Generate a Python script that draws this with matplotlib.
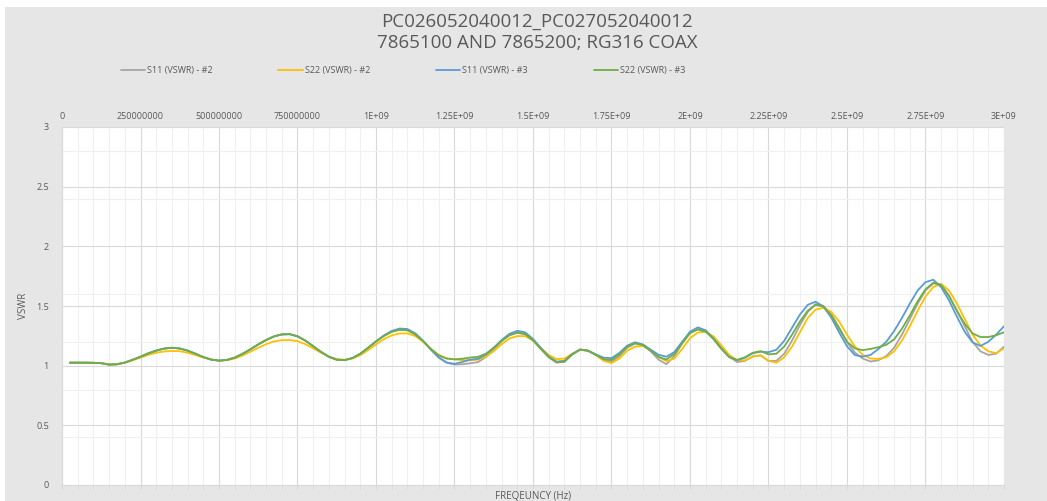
import numpy as np
import matplotlib
matplotlib.use("Agg")
import matplotlib.pyplot as plt
from matplotlib.ticker import MultipleLocator, FixedLocator, FixedFormatter
from matplotlib.patches import Rectangle

# frequency grid (Hz), 25 MHz steps
freq = np.arange(25, 3001, 25) * 1e6

s11_2 = [1.025, 1.025, 1.025, 1.024, 1.021, 1.009, 1.012, 1.026, 1.049, 1.075,
         1.103, 1.126, 1.143, 1.150, 1.144, 1.126, 1.100, 1.072, 1.051, 1.042,
         1.048, 1.067, 1.099, 1.137, 1.178, 1.215, 1.245, 1.262, 1.264, 1.246,
         1.210, 1.163, 1.115, 1.074, 1.050, 1.046, 1.064, 1.100, 1.150, 1.203,
         1.250, 1.286, 1.305, 1.300, 1.265, 1.205, 1.132, 1.066, 1.024, 1.010,
         1.012, 1.020, 1.030, 1.072, 1.135, 1.205, 1.258, 1.282, 1.270, 1.215,
         1.140, 1.070, 1.025, 1.032, 1.093, 1.134, 1.125, 1.092, 1.050, 1.032,
         1.080, 1.150, 1.185, 1.172, 1.120, 1.050, 1.012, 1.080, 1.185, 1.275,
         1.308, 1.292, 1.232, 1.150, 1.075, 1.030, 1.040, 1.078, 1.086, 1.040,
         1.040, 1.100, 1.210, 1.340, 1.450, 1.515, 1.500, 1.430, 1.320, 1.200,
         1.110, 1.060, 1.035, 1.045, 1.080, 1.150, 1.260, 1.390, 1.520, 1.630,
         1.690, 1.680, 1.590, 1.460, 1.330, 1.200, 1.120, 1.090, 1.100, 1.160]

s22_2 = [1.025, 1.025, 1.025, 1.024, 1.021, 1.009, 1.011, 1.024, 1.045, 1.068,
         1.090, 1.108, 1.119, 1.123, 1.121, 1.108, 1.089, 1.068, 1.052, 1.043,
         1.046, 1.060, 1.085, 1.117, 1.150, 1.180, 1.203, 1.214, 1.215, 1.205,
         1.180, 1.145, 1.108, 1.077, 1.056, 1.050, 1.060, 1.088, 1.130, 1.178,
         1.222, 1.254, 1.270, 1.270, 1.248, 1.200, 1.140, 1.090, 1.060, 1.053,
         1.046, 1.045, 1.050, 1.075, 1.122, 1.180, 1.228, 1.248, 1.247, 1.210,
         1.150, 1.090, 1.055, 1.060, 1.100, 1.132, 1.128, 1.090, 1.040, 1.022,
         1.060, 1.125, 1.160, 1.164, 1.130, 1.075, 1.037, 1.060, 1.140, 1.230,
         1.278, 1.284, 1.245, 1.170, 1.090, 1.045, 1.045, 1.075, 1.087, 1.040,
         1.025, 1.070, 1.160, 1.280, 1.400, 1.470, 1.485, 1.450, 1.370, 1.260,
         1.160, 1.090, 1.060, 1.057, 1.070, 1.120, 1.210, 1.330, 1.460, 1.580,
         1.660, 1.685, 1.630, 1.520, 1.390, 1.260, 1.170, 1.120, 1.105, 1.145]

s11_3 = [1.025, 1.025, 1.025, 1.024, 1.021, 1.009, 1.012, 1.026, 1.049, 1.075,
         1.103, 1.126, 1.143, 1.150, 1.144, 1.126, 1.100, 1.072, 1.051, 1.042,
         1.048, 1.067, 1.099, 1.137, 1.178, 1.215, 1.245, 1.262, 1.264, 1.246,
         1.210, 1.163, 1.115, 1.074, 1.050, 1.046, 1.064, 1.100, 1.150, 1.203,
         1.253, 1.291, 1.311, 1.307, 1.271, 1.209, 1.136, 1.070, 1.027, 1.015,
         1.031, 1.050, 1.058, 1.092, 1.150, 1.215, 1.267, 1.292, 1.279, 1.224,
         1.148, 1.077, 1.034, 1.041, 1.098, 1.136, 1.126, 1.095, 1.067, 1.063,
         1.107, 1.168, 1.196, 1.178, 1.134, 1.091, 1.075, 1.114, 1.200, 1.285,
         1.321, 1.296, 1.226, 1.142, 1.072, 1.047, 1.067, 1.104, 1.117, 1.113,
         1.133, 1.208, 1.318, 1.428, 1.510, 1.536, 1.496, 1.402, 1.278, 1.163,
         1.089, 1.076, 1.090, 1.140, 1.200, 1.290, 1.400, 1.520, 1.630, 1.700,
         1.720, 1.657, 1.546, 1.411, 1.283, 1.195, 1.165, 1.200, 1.260, 1.330]

s22_3 = [1.025, 1.025, 1.025, 1.024, 1.021, 1.009, 1.012, 1.026, 1.049, 1.075,
         1.103, 1.126, 1.143, 1.150, 1.144, 1.126, 1.100, 1.072, 1.051, 1.042,
         1.048, 1.067, 1.099, 1.137, 1.178, 1.215, 1.245, 1.262, 1.264, 1.246,
         1.210, 1.163, 1.115, 1.074, 1.050, 1.046, 1.064, 1.100, 1.150, 1.203,
         1.248, 1.283, 1.300, 1.296, 1.262, 1.205, 1.140, 1.086, 1.060, 1.053,
         1.058, 1.068, 1.074, 1.100, 1.150, 1.208, 1.254, 1.275, 1.263, 1.212,
         1.140, 1.072, 1.030, 1.034, 1.095, 1.135, 1.124, 1.090, 1.055, 1.047,
         1.095, 1.160, 1.189, 1.172, 1.125, 1.072, 1.052, 1.098, 1.188, 1.272,
         1.303, 1.285, 1.222, 1.140, 1.072, 1.048, 1.070, 1.108, 1.122, 1.095,
         1.100, 1.160, 1.260, 1.370, 1.460, 1.512, 1.495, 1.420, 1.310, 1.200,
         1.145, 1.130, 1.140, 1.155, 1.175, 1.220, 1.310, 1.420, 1.540, 1.640,
         1.695, 1.675, 1.580, 1.460, 1.350, 1.270, 1.240, 1.240, 1.255, 1.280]

series_names = ["S11 (VSWR) - #2", "S22 (VSWR) - #2", "S11 (VSWR) - #3", "S22 (VSWR) - #3"]
series_colors = ["#A5A5A5", "#FFC000", "#5B9BD5", "#70AD47"]

x_tick_labels = ["0", "250000000", "500000000", "750000000", "1E+09", "1.25E+09",
                 "1.5E+09", "1.75E+09", "2E+09", "2.25E+09", "2.5E+09", "2.75E+09", "3E+09"]

plt.rcParams['font.family'] = ['Open Sans', 'DejaVu Sans']
txt_col = "#595959"

fig = plt.figure(figsize=(10.47, 5.01), dpi=100, facecolor="white")
# gray chart area
fig.patches.append(Rectangle((5 / 1047, 0), 1, 1 - 7 / 501, transform=fig.transFigure,
                             facecolor="#E6E6E6", edgecolor="none", zorder=-10))

ax = fig.add_axes([62 / 1047, 1 - 485 / 501, 942 / 1047, 358 / 501])
ax.set_facecolor("white")

for vals, name, col in zip([s11_2, s22_2, s11_3, s22_3], series_names, series_colors):
    ax.plot(freq, vals, color=col, lw=1.3, label=name, solid_capstyle="round")

ax.set_xlim(0, 3e9)
ax.set_ylim(0, 3)

ax.xaxis.set_major_locator(FixedLocator(np.arange(0, 3.01e9, 2.5e8)))
ax.xaxis.set_major_formatter(FixedFormatter(x_tick_labels))
ax.xaxis.set_minor_locator(MultipleLocator(5e7))
ax.yaxis.set_major_locator(MultipleLocator(0.5))
ax.yaxis.set_minor_locator(FixedLocator([0.4, 0.8, 1.2, 1.6, 2.4, 2.8]))
ax.yaxis.set_major_formatter(plt.FuncFormatter(lambda v, p: f"{v:g}"))

ax.grid(which="major", color="#D9D9D9", lw=0.8)
ax.grid(which="minor", color="#F0F0F0", lw=0.8)
ax.set_axisbelow(True)

ax.tick_params(axis="x", which="both", bottom=True, top=False, labelbottom=False,
               labeltop=True, direction="out", length=3, color="#D9D9D9",
               labelsize=6.5, labelcolor=txt_col, pad=1)
ax.tick_params(axis="y", which="both", left=False, labelsize=6.5, labelcolor=txt_col, pad=6)

for s in ["top", "right"]:
    ax.spines[s].set_visible(False)
ax.spines["left"].set_color("#D9D9D9")
ax.spines["bottom"].set_color("#D9D9D9")

ax.set_ylabel("VSWR", fontsize=7, color=txt_col)
ax.yaxis.set_label_coords((29 - 62) / 942, 0.5)
ax.text(0.5, -0.016, "FREQEUNCY (Hz)", transform=ax.transAxes, ha="center", va="top",
        fontsize=7, color=txt_col)

fig.text(537 / 1047, 1 - 22 / 501, "PC026052040012_PC027052040012", ha="center", va="center",
         fontsize=13.5, color=txt_col)
fig.text(537 / 1047, 1 - 43 / 501, "7865100 AND 7865200; RG316 COAX", ha="center", va="center",
         fontsize=13.5, color=txt_col)

fig.legend(loc="center", bbox_to_anchor=(403 / 1047, 1 - 71 / 501), ncol=4, frameon=False,
           fontsize=6.5, labelcolor=txt_col, handlelength=2.7, handletextpad=0.2,
           columnspacing=7.3)

fig.savefig("out.png", dpi=100, facecolor=fig.get_facecolor())
